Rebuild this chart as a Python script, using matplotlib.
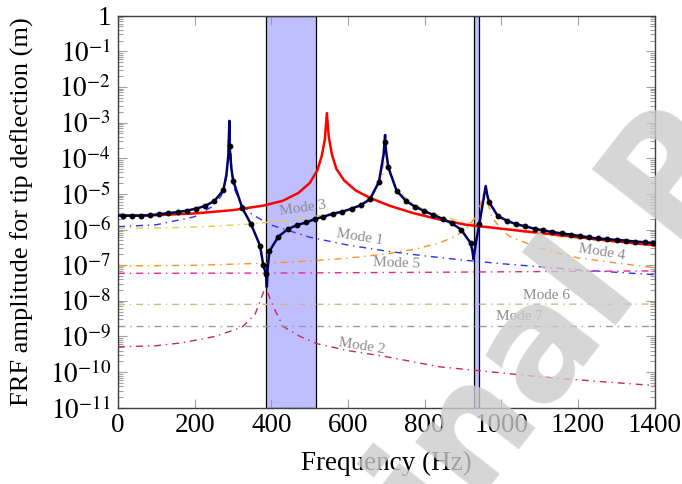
import numpy as np
import matplotlib
matplotlib.use("AGG")
import matplotlib.pyplot as plt
from matplotlib.ticker import FixedLocator, LogLocator, FuncFormatter

plt.rcParams['font.family'] = ['Liberation Serif', 'DejaVu Serif']
plt.rcParams['mathtext.fontset'] = 'stix'

# band gaps (Hz)
gaps = [(387, 516), (929, 941)]

# bare beam (red)
freq_bare = [0, 100, 200, 300, 380, 430, 470, 500, 520, 532, 540, 545, 550, 558, 570,
             590, 620, 660, 710, 770, 840, 910, 1020, 1150, 1280, 1400]
amp_bare = [2.45e-6, 2.53e-6, 2.83e-6, 3.5e-6, 4.7e-6, 6.4e-6, 1.05e-5, 2.0e-5, 4.5e-5,
            1.2e-4, 3.5e-4, 1.85e-3, 4.0e-4, 1.3e-4, 5.0e-5, 2.4e-5, 1.25e-5, 7.5e-6,
            4.6e-6, 2.9e-6, 1.9e-6, 1.35e-6, 1.0e-6, 7.0e-7, 4.9e-7, 3.6e-7]

# metamaterial beam: sampled points (dots)
freq_pts = [13.8, 37.3, 60, 83.5, 107.8, 131.3, 155.8, 179.2, 203.6, 227.1, 251.4, 274.9,
            291.5, 300.9, 324.4, 347.2, 370.6, 379.3, 386.3, 395, 418.4, 442.8, 466.3,
            490.6, 513.2, 535.8, 560.2, 585.4, 609.8, 633.2, 657.6, 681, 697.6, 705.5,
            727, 751.6, 775, 799, 823, 847, 871.6, 895, 920, 943, 968, 991, 1016, 1039,
            1063, 1087, 1110, 1133, 1158, 1181, 1205, 1230, 1253, 1277, 1301, 1325,
            1349, 1374, 1397]
amp_pts = [2.45e-6, 2.45e-6, 2.45e-6, 2.51e-6, 2.69e-6, 2.88e-6, 3.09e-6, 3.39e-6, 3.85e-6,
           4.57e-6, 6.31e-6, 1.26e-5, 2.19e-4, 2.29e-5, 3.98e-6, 1.41e-6, 3.55e-7, 9.8e-8,
           5.6e-8, 2.45e-7, 6.3e-7, 1.02e-6, 1.32e-6, 1.58e-6, 1.95e-6, 2.29e-6, 2.75e-6,
           3.16e-6, 3.85e-6, 4.79e-6, 7.1e-6, 2.19e-5, 2.8e-4, 5.5e-5, 1.23e-5, 6.3e-6,
           4.4e-6, 3.3e-6, 2.57e-6, 2.0e-6, 1.48e-6, 1.0e-6, 4.2e-7, 1.45e-6, 6.0e-6,
           2.4e-6, 1.74e-6, 1.41e-6, 1.23e-6, 1.05e-6, 9.5e-7, 8.5e-7, 7.8e-7, 7.2e-7,
           6.6e-7, 6.0e-7, 5.6e-7, 5.4e-7, 5.1e-7, 4.9e-7, 4.6e-7, 4.4e-7, 4.2e-7]
# extra points of the continuous curve (peaks and dips)
freq_extra = [0, 283, 288, 290.7, 292.5, 296, 388.5, 390.5, 693, 697, 699.5,
              925, 927.5, 935, 959.5, 963, 1400]
amp_extra = [2.45e-6, 3.5e-5, 1.26e-4, 1.12e-3, 1.4e-4, 5.0e-5, 2.5e-8, 8.0e-8, 1.26e-4,
             4.5e-4, 1.6e-4, 2.5e-7, 1.5e-7, 5.0e-7, 1.66e-5, 1.0e-5, 4.1e-7]

# modal contributions
mode_freq = {
    1: [0, 100, 200, 250, 270, 285, 290, 300, 320, 350, 400, 500, 600, 700, 800, 900,
        1000, 1200, 1400],
    2: [0, 100, 166, 253, 323, 357, 375, 385, 388, 405, 431, 475, 518, 600, 692, 840,
        1000, 1100, 1250, 1400],
    3: [0, 150, 250, 350, 450, 520, 580, 630, 670, 690, 698, 710, 730, 760, 800, 850,
        900, 1000, 1100, 1200, 1300, 1400],
    4: [0, 200, 400, 500, 600, 700, 780, 840, 880, 910, 930, 940, 958, 965, 975, 1000,
        1023, 1100, 1200, 1300, 1400],
    5: [0, 400, 800, 1000, 1200, 1400],
    6: [0, 1400],
    7: [0, 1400],
}
mode_amp = {
    1: [1.2e-6, 1.36e-6, 2.29e-6, 4.67e-6, 9.0e-6, 3.5e-5, 1.0e-3, 1.7e-5, 5.5e-6, 2.63e-6,
        1.33e-6, 6.1e-7, 3.66e-7, 2.49e-7, 1.82e-7, 1.39e-7, 1.1e-7, 7.4e-8, 5.4e-8],
    2: [5.1e-10, 5.5e-10, 6.6e-10, 1.0e-9, 1.8e-9, 4.0e-9, 1.3e-8, 2.5e-8, 2.0e-8, 6.9e-9,
        1.9e-9, 1.0e-9, 6.3e-10, 4.0e-10, 2.8e-10, 1.4e-10, 9.5e-11, 7.4e-11, 5.5e-11,
        4.2e-11],
    3: [1.08e-6, 1.13e-6, 1.24e-6, 1.44e-6, 1.84e-6, 2.4e-6, 3.2e-6, 4.8e-6, 1.1e-5,
        3.5e-5, 2.0e-4, 3.3e-5, 1.2e-5, 6.5e-6, 3.5e-6, 2.3e-6, 1.65e-6, 1.05e-6, 7.3e-7,
        5.5e-7, 4.4e-7, 3.6e-7],
    4: [9.5e-8, 9.9e-8, 1.15e-7, 1.31e-7, 1.57e-7, 2.06e-7, 2.88e-7, 4.26e-7, 6.46e-7,
        1.08e-6, 2.0e-6, 3.0e-6, 1.5e-5, 6.0e-6, 2.3e-6, 1.0e-6, 6.3e-7, 3.0e-7, 1.6e-7,
        1.15e-7, 8.5e-8],
    5: [5.9e-8, 6.0e-8, 6.3e-8, 6.5e-8, 6.7e-8, 6.9e-8],
    6: [7.9e-9, 8.1e-9],
    7: [2.0e-9, 2.0e-9],
}
mode_color = {1: '#2f2fff', 2: '#c8285e', 3: '#e0cc50', 4: '#ff9025', 5: '#f02490',
              6: '#d8b48c', 7: '#9a9a9a'}
# label position (Hz, m) and angle
mode_label = {1: (631, 6.2e-7, -9), 2: (635, 5.4e-10, -9), 3: (482, 4.0e-6, 8),
              4: (1262, 2.3e-7, -9), 5: (727, 1.15e-7, -2), 6: (1118, 1.45e-8, 0),
              7: (1048, 3.7e-9, 0)}

fig = plt.figure(figsize=(6.82, 4.84), dpi=100)
ax = fig.add_axes([0.173, 0.1576, 0.7867, 0.81])

for lo, hi in gaps:
    ax.axvspan(lo, hi, facecolor='#bfbfff', edgecolor='black', lw=0.9, zorder=1)

dashdot = (0, (5, 3.5, 1, 3.5))
for k in sorted(mode_freq):
    ax.plot(mode_freq[k], mode_amp[k], color=mode_color[k], lw=1.0, ls=dashdot, zorder=2)
    fx, fy, rot = mode_label[k]
    ax.text(fx, fy, 'Mode %d' % k, color='#8a8a8a', fontsize=11, rotation=rot,
            ha='center', va='center', zorder=3)

ax.plot(freq_bare, amp_bare, color='#ff0000', lw=1.8, zorder=4)

fl = np.array(freq_pts + freq_extra)
al = np.array(amp_pts + amp_extra)
order = np.argsort(fl, kind='stable')
ax.plot(fl[order], al[order], color='#00006e', lw=1.8, zorder=5)
ax.plot(freq_pts, amp_pts, 'o', color='black', ms=3.2, zorder=6)

ax.set_yscale('log')
ax.set_xlim(0, 1400)
ax.set_ylim(1e-11, 1)
ax.set_xticks(np.arange(0, 1401, 200))
ax.yaxis.set_major_locator(FixedLocator([10.0 ** e for e in range(-11, 1)]))
ax.yaxis.set_minor_locator(LogLocator(base=10, subs=np.arange(2, 10), numticks=30))
ax.yaxis.set_major_formatter(FuncFormatter(
    lambda v, p: '1' if abs(v - 1) < 1e-9 else r'$10^{%d}$' % round(np.log10(v))))
ax.tick_params(which='both', direction='in', top=True, right=True, color='#a0a0a0',
               width=0.8, labelsize=19.5)
ax.tick_params(which='major', length=6.5)
ax.tick_params(which='minor', length=3.5)
ax.tick_params(axis='y', pad=5)
ax.tick_params(axis='x', pad=4)
for s in ax.spines.values():
    s.set_color('#404040')
    s.set_linewidth(1.0)

ax.set_xlabel('Frequency (Hz)', fontsize=19.5)
ax.set_ylabel('FRF amplitude for tip deflection (m)', fontsize=19)
ax.xaxis.set_label_coords(0.5, -0.141)
ax.yaxis.set_label_coords(-0.179, 0.5)
ax.xaxis.label.set_va('center')
ax.yaxis.label.set_va('center')

fig.text(0.815, 0.31, 'Original Proof', fontsize=112, family='DejaVu Sans',
         fontweight='bold', color='#cccccc', alpha=0.8, rotation=52,
         ha='center', va='center', zorder=10)

fig.savefig('out.png', dpi=100)
